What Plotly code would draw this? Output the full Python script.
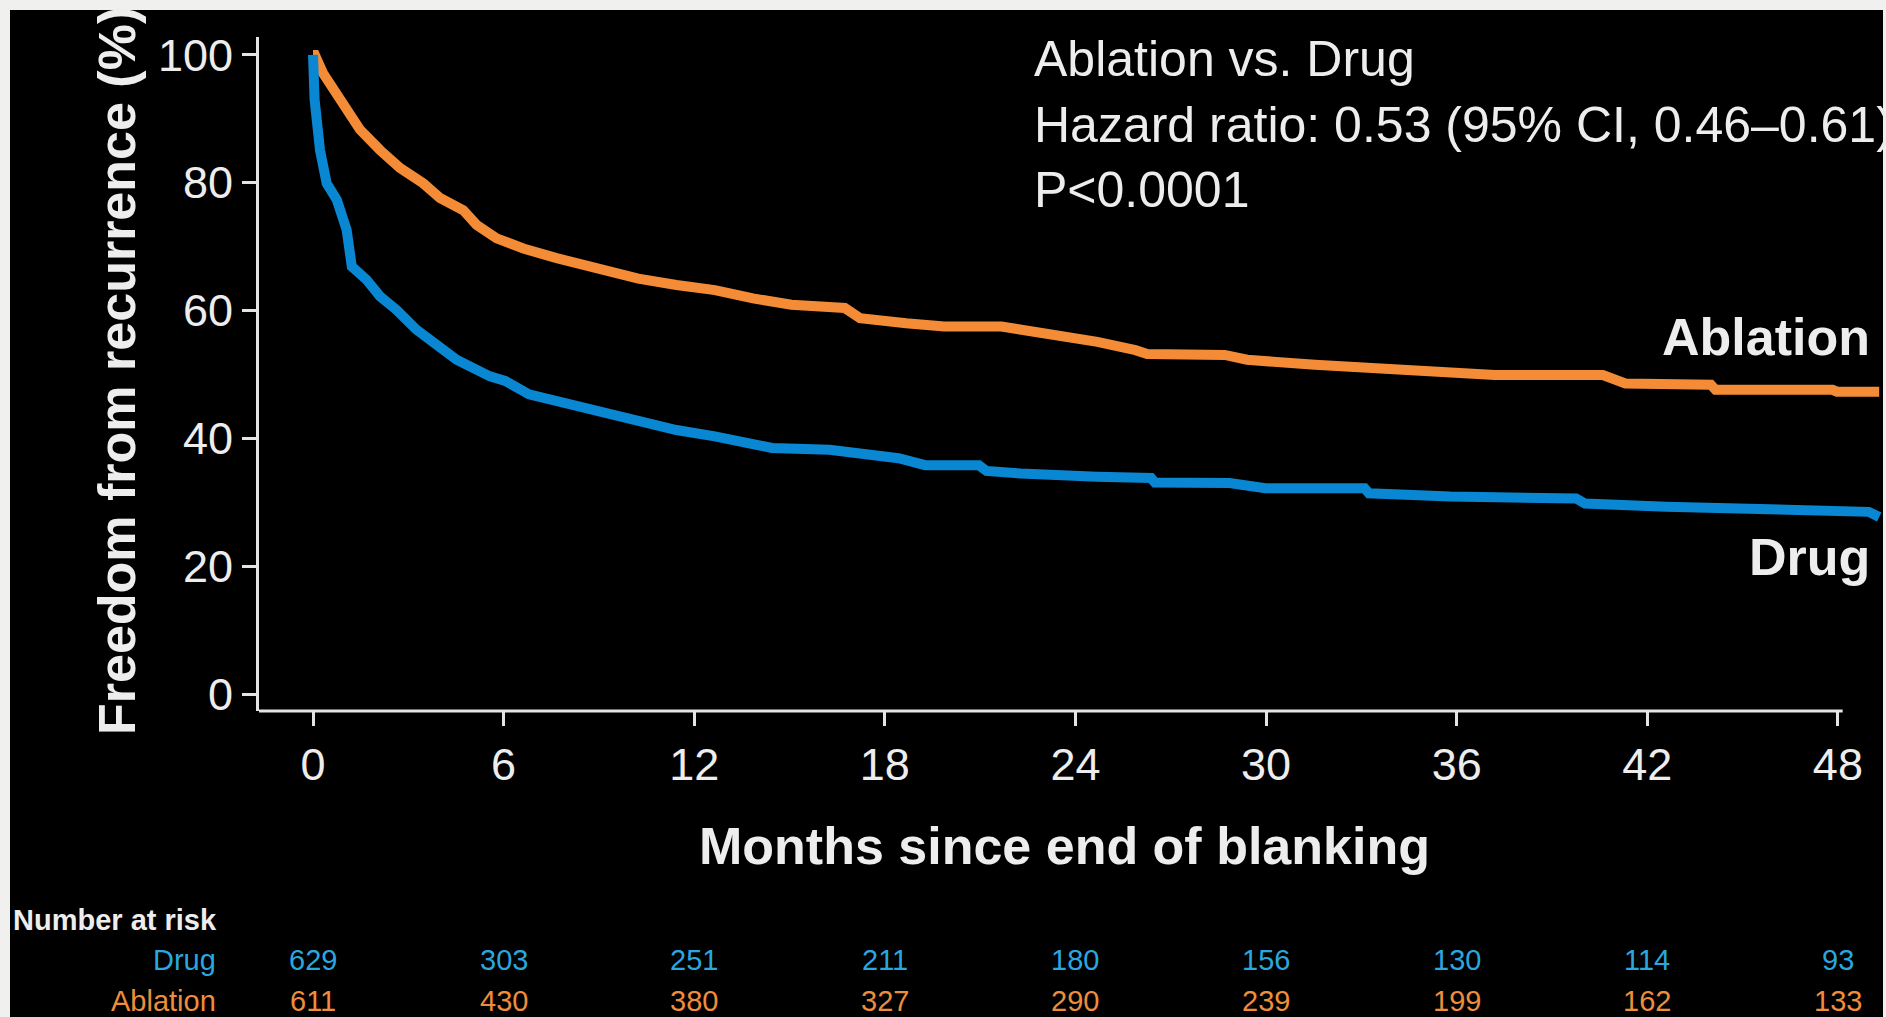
import plotly.graph_objects as go

# ---------------- data ----------------
ablation_months = [0, 0.06, 0.32, 0.64, 1.06, 1.48, 2.11, 2.74, 3.47, 4.0, 4.73, 5.15, 5.78, 6.62,
                   7.67, 9.03, 10.24, 11.44, 12.65, 13.85, 15.06, 16.74, 17.22, 18.67, 19.87,
                   21.67, 22.28, 23.48, 24.69, 25.89, 26.26, 28.7, 29.4, 31.54, 33.38, 35.22,
                   37.2, 40.6, 41.31, 44.0, 44.15, 47.83, 47.97, 49.3]
ablation_surv = [100, 100, 97.1, 94.5, 91.1, 88.3, 85.1, 82.3, 79.9, 77.6, 75.7, 73.4, 71.3, 69.7,
                 68.2, 66.4, 65.0, 64.0, 63.2, 61.9, 60.9, 60.4, 58.8, 58.0, 57.5,
                 57.5, 57.0, 56.2, 55.1, 53.8, 53.2, 53.05, 52.3, 51.5, 51.0, 50.2,
                 49.9, 49.9, 48.6, 48.4, 47.6, 47.6, 47.3, 47.3]

drug_months = [0, 0.05, 0.22, 0.43, 0.75, 1.06, 1.22, 1.69, 2.11, 2.63, 3.26, 3.89, 4.52, 5.57,
               6.05, 6.8, 7.6, 9.03, 10.24, 11.44, 12.65, 14.45, 16.26, 18.43, 19.27, 20.96,
               21.2, 22.28, 24.69, 26.38, 26.5, 28.85, 29.98, 33.1, 33.24, 35.8, 39.76, 40.04,
               42.6, 45.7, 48.97, 49.3]
drug_surv = [100, 93.0, 85.1, 79.9, 77.3, 72.6, 66.9, 64.8, 62.2, 60.1, 57.0, 54.4, 52.3, 49.7,
             49.0, 46.9, 45.9, 44.2, 42.6, 41.3, 40.3, 38.5, 38.2, 36.9, 35.8, 35.8,
             34.9, 34.5, 34.0, 33.8, 33.1, 33.0, 32.2, 32.2, 31.4, 30.9, 30.6, 29.8,
             29.3, 28.8, 28.5, 27.7]

risk_months = [0, 6, 12, 18, 24, 30, 36, 42, 48]
risk_drug = [629, 303, 251, 211, 180, 156, 130, 114, 93]
risk_ablation = [611, 430, 380, 327, 290, 239, 199, 162, 133]

y_ticks = [0, 20, 40, 60, 80, 100]

# ---------------- styling ----------------
W, H = 1886, 1017
ORANGE = "#F48C37"
BLUE = "#0A87D2"
RISK_BLUE = "#2AA7DF"
RISK_ORANGE = "#EE8E3C"
TXT = "#EDEDED"
AXC = "#E4E4E4"
FONT = "Arial, Liberation Sans, sans-serif"


def px(x):
    return x / W


def py(y):
    return 1 - y / H


fig = go.Figure()
fig.add_trace(go.Scatter(x=ablation_months, y=ablation_surv, mode="lines",
                         line=dict(color=ORANGE, width=10), name="Ablation",
                         showlegend=False))
fig.add_trace(go.Scatter(x=drug_months, y=drug_surv, mode="lines",
                         line=dict(color=BLUE, width=10), name="Drug",
                         showlegend=False))

x_left, x_right = 259, 1883
y_top, y_bot = 37, 711

fig.update_layout(
    template="none",
    width=W, height=H,
    margin=dict(l=0, r=0, t=0, b=0, pad=0, autoexpand=False),
    paper_bgcolor="#F0F0EE",
    plot_bgcolor="rgba(0,0,0,0)",
    font=dict(family=FONT, color=TXT),
    xaxis=dict(domain=[px(x_left), px(x_right)], range=[-1.70, 49.42],
               tickvals=risk_months, ticktext=[str(v) for v in risk_months],
               ticks="outside", ticklen=14, tickwidth=3, tickcolor=AXC,
               showline=False, showgrid=False, zeroline=False, automargin=False,
               tickfont=dict(size=45, color=TXT, family=FONT)),
    yaxis=dict(domain=[py(y_bot), py(y_top)], range=[-2.66, 102.8],
               tickvals=y_ticks, ticks="outside", ticklen=14, tickwidth=3, tickcolor=AXC,
               showline=True, linecolor=AXC, linewidth=3, automargin=False,
               showgrid=False, zeroline=False,
               tickfont=dict(size=45, color=TXT, family=FONT)),
)

# black panel
fig.add_shape(type="rect", xref="paper", yref="paper",
              x0=px(10), x1=px(1883), y0=0, y1=py(10),
              fillcolor="black", line=dict(width=0), layer="below")
# x axis line (ends at 48 months)
fig.add_shape(type="line", xref="x", yref="paper",
              x0=-1.70, x1=48.15, y0=py(y_bot), y1=py(y_bot),
              line=dict(color=AXC, width=3))

# axis titles
fig.add_annotation(text="<b>Months since end of blanking</b>", xref="paper", yref="paper",
                   x=px(1064), y=py(846), xanchor="center", yanchor="middle",
                   showarrow=False, font=dict(size=52, color=TXT, family=FONT))
fig.add_annotation(text="<b>Freedom from recurrence (%)</b>", xref="paper", yref="paper",
                   x=px(117), y=py(371), xanchor="center", yanchor="middle", textangle=-90,
                   showarrow=False, font=dict(size=52, color=TXT, family=FONT))

# header text
for txt, yc in [("Ablation vs. Drug", 59), ("Hazard ratio: 0.53 (95% CI, 0.46\u20130.61)", 125),
                ("P<0.0001", 190)]:
    fig.add_annotation(text=txt, xref="paper", yref="paper", x=px(1032), y=py(yc),
                       xanchor="left", yanchor="middle", showarrow=False,
                       font=dict(size=50, color=TXT, family=FONT))

# curve labels
fig.add_annotation(text="<b>Ablation</b>", xref="paper", yref="paper", x=px(1872), y=py(337),
                   xanchor="right", yanchor="middle", showarrow=False,
                   font=dict(size=52, color=TXT, family=FONT))
fig.add_annotation(text="<b>Drug</b>", xref="paper", yref="paper", x=px(1872), y=py(557),
                   xanchor="right", yanchor="middle", showarrow=False,
                   font=dict(size=52, color=TXT, family=FONT))

# number at risk table
fig.add_annotation(text="<b>Number at risk</b>", xref="paper", yref="paper", x=px(11), y=py(920),
                   xanchor="left", yanchor="middle", showarrow=False,
                   font=dict(size=29, color=TXT, family=FONT))
fig.add_annotation(text="Drug", xref="paper", yref="paper", x=px(218), y=py(960),
                   xanchor="right", yanchor="middle", showarrow=False,
                   font=dict(size=29, color=RISK_BLUE, family=FONT))
fig.add_annotation(text="Ablation", xref="paper", yref="paper", x=px(218), y=py(1001),
                   xanchor="right", yanchor="middle", showarrow=False,
                   font=dict(size=29, color=RISK_ORANGE, family=FONT))
for m, d, a in zip(risk_months, risk_drug, risk_ablation):
    fig.add_annotation(text=str(d), xref="x", yref="paper", x=m, y=py(960),
                       xanchor="center", yanchor="middle", showarrow=False,
                       font=dict(size=29, color=RISK_BLUE, family=FONT))
    fig.add_annotation(text=str(a), xref="x", yref="paper", x=m, y=py(1001),
                       xanchor="center", yanchor="middle", showarrow=False,
                       font=dict(size=29, color=RISK_ORANGE, family=FONT))

fig.write_html("out.html", config={"displayModeBar": False, "responsive": False})
